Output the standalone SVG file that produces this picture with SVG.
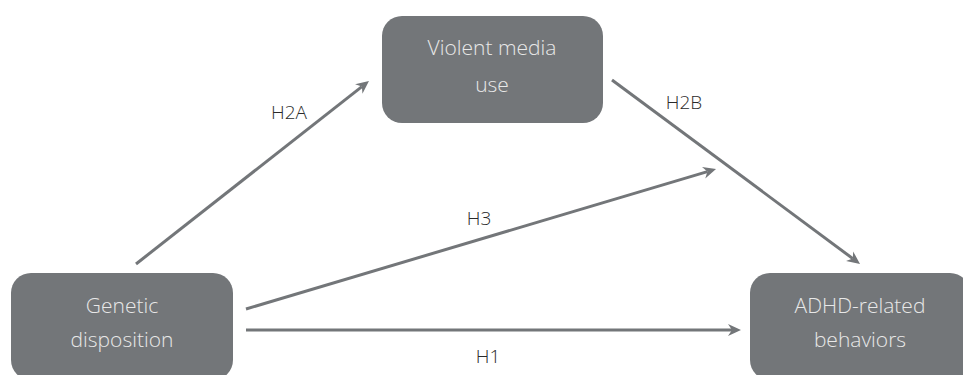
<svg xmlns="http://www.w3.org/2000/svg" width="963" height="375" viewBox="0 0 963 375">
<style>
.box{fill:#737679;}
.nt{font-family:"Open Sans","Liberation Sans",sans-serif;font-weight:300;font-size:21px;fill:#e8e8e8;text-anchor:middle;}
.lbl{font-family:"Open Sans","Liberation Sans",sans-serif;font-weight:300;font-size:19px;fill:#2a2a2a;text-anchor:middle;}
.edge{stroke:#737679;stroke-width:3;fill:none;marker-end:url(#ah);}
</style>
<defs>
<marker id="ah" markerUnits="userSpaceOnUse" markerWidth="14" markerHeight="14" refX="4" refY="7" orient="auto">
<path d="M0,1 L13,7 L0,13 L4,7 Z" fill="#737679"/>
</marker>
</defs>
<rect width="963" height="375" fill="#ffffff"/>
<g id="connectors">
<line class="edge" x1="136" y1="264" x2="361.9" y2="86.6"/>
<line class="edge" x1="612" y1="80" x2="852.8" y2="258.6"/>
<line class="edge" x1="246" y1="309" x2="707.4" y2="171.6"/>
<line class="edge" x1="246" y1="330" x2="732" y2="330"/>
<text class="lbl" x="289" y="119">H2A</text>
<text class="lbl" x="684" y="109">H2B</text>
<text class="lbl" x="479" y="225">H3</text>
<text class="lbl" x="488" y="363">H1</text>
</g>
<g id="node-violent">
<rect class="box" x="382" y="16" width="221" height="107" rx="20"/>
<text class="nt" x="492" y="55">Violent media</text>
<text class="nt" x="492" y="92">use</text>
</g>
<g id="node-genetic">
<rect class="box" x="11" y="273" width="222" height="107" rx="20"/>
<text class="nt" x="122" y="313">Genetic</text>
<text class="nt" x="122" y="347">disposition</text>
</g>
<g id="node-adhd">
<rect class="box" x="750" y="273" width="220" height="107" rx="20"/>
<text class="nt" x="860" y="313">ADHD-related</text>
<text class="nt" x="860" y="347">behaviors</text>
</g>
</svg>
